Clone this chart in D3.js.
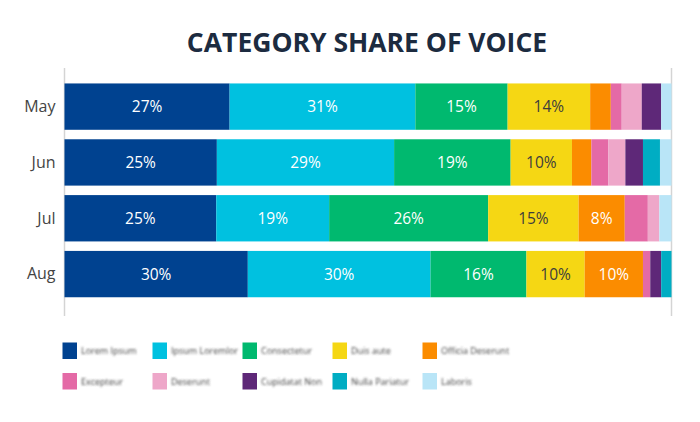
<!DOCTYPE html>
<html>
<head>
<meta charset="utf-8">
<script src="https://cdn.jsdelivr.net/npm/d3@7"></script>
<style>
  body { margin: 0; background: #fff; }
  svg { display: block; font-family: "Open Sans", sans-serif; }
</style>
</head>
<body>
<div id="wrapper"></div>
<script>
const months = ["May", "Jun", "Jul", "Aug"];
const categories = [
  "Lorem Ipsum", "Ipsum Loremlor", "Consectetur", "Duis aute", "Officia Deserunt",
  "Excepteur", "Deserunt", "Cupidatat Non", "Nulla Pariatur", "Laboris"
];
const colors = [
  "#004290", "#00c1e0", "#00b96f", "#f5d714", "#fb8c00",
  "#e46aa6", "#eea7c9", "#5e2878", "#00adc3", "#b9e5f7"
];
// share (%) per month, one array per category
const lorem     = [27.2, 25.1, 25.0, 30.2];
const ipsum     = [30.6, 29.2, 18.6, 30.1];
const consect   = [15.2, 19.2, 26.2, 15.8];
const duis      = [13.6, 10.1, 14.9, 9.6];
const officia   = [3.4, 3.2, 7.6, 9.6];
const excepteur = [1.8, 2.8, 3.8, 1.2];
const deserunt  = [3.3, 2.8, 1.9, 0];
const cupidatat = [3.2, 2.9, 0, 1.8];
const nulla     = [0, 2.8, 0, 1.7];
const laboris   = [1.7, 1.9, 2.0, 0];
const series = [lorem, ipsum, consect, duis, officia, excepteur, deserunt, cupidatat, nulla, laboris];

const labelMin = 7.5;
const darkLabel = new Set(["Duis aute"]);

const dimensions = { width: 700, height: 422 };
const plot = { left: 64.5, right: 671.5, top: 68, bottom: 316 };

const rows = months.map((m, i) => {
  const r = { month: m };
  categories.forEach((c, j) => r[c] = series[j][i]);
  return r;
});
const stacked = d3.stack().keys(categories)(rows);

const svg = d3.select("#wrapper").append("svg")
  .attr("width", dimensions.width)
  .attr("height", dimensions.height);

const defs = svg.append("defs");
defs.append("filter").attr("id", "soft")
  .attr("x", "-10%").attr("width", "120%")
  .append("feGaussianBlur").attr("stdDeviation", 0.85);

const xScale = d3.scaleLinear().domain([0, 100]).range([plot.left, plot.right]);
const yScale = d3.scaleBand().domain(months)
  .range([78.7, 302]).paddingInner(0.17).paddingOuter(0.085);
const colorScale = d3.scaleOrdinal().domain(categories).range(colors);

svg.append("text")
  .attr("x", 367)
  .attr("y", 52)
  .attr("text-anchor", "middle")
  .attr("font-size", 26.5)
  .attr("font-weight", 700)
  .attr("fill", "#1c2b40")
  .text("CATEGORY SHARE OF VOICE");

// frame lines
[plot.left, plot.right].forEach(x => {
  svg.append("line")
    .attr("x1", x).attr("x2", x)
    .attr("y1", plot.top).attr("y2", plot.bottom)
    .attr("stroke", "#d4d4d4").attr("stroke-width", 1.5);
});

const layers = svg.append("g").selectAll("g")
  .data(stacked).join("g")
  .attr("fill", d => colorScale(d.key));

layers.selectAll("rect")
  .data(d => d)
  .join("rect")
  .attr("x", d => xScale(d[0]))
  .attr("y", d => yScale(d.data.month))
  .attr("width", d => xScale(d[1]) - xScale(d[0]))
  .attr("height", yScale.bandwidth());

// bar labels
stacked.forEach(layer => {
  svg.append("g").selectAll("text")
    .data(layer.filter(d => d[1] - d[0] >= labelMin))
    .join("text")
    .attr("x", d => (xScale(d[0]) + xScale(d[1])) / 2)
    .attr("y", d => yScale(d.data.month) + yScale.bandwidth() / 2)
    .attr("dy", "0.36em")
    .attr("text-anchor", "middle")
    .attr("font-size", 15.5)
    .attr("fill", darkLabel.has(layer.key) ? "#3d3d3d" : "#fff")
    .text(d => Math.round(d[1] - d[0]) + "%");
});

// y axis labels
const yAxis = d3.axisLeft(yScale).tickSize(0).tickPadding(9);
svg.append("g")
  .attr("transform", `translate(${plot.left},0)`)
  .call(yAxis)
  .call(g => g.select(".domain").remove())
  .call(g => g.selectAll("text")
    .attr("font-family", "Open Sans, sans-serif")
    .attr("font-size", 16)
    .attr("dy", "0.33em")
    .attr("fill", "#444"));

// legend
const legend = svg.append("g").selectAll("g")
  .data(categories).join("g")
  .attr("transform", (d, i) => `translate(${62.5 + (i % 5) * 90},${342.5 + Math.floor(i / 5) * 30.5})`);

legend.append("rect")
  .attr("width", 14.5).attr("height", 16.5)
  .attr("fill", d => colorScale(d));

legend.append("text")
  .attr("x", 18.5).attr("y", 8.5)
  .attr("dy", "0.35em")
  .attr("font-size", 9)
  .attr("fill", "#444")
  .attr("filter", "url(#soft)")
  .text(d => d);
</script>
</body>
</html>
